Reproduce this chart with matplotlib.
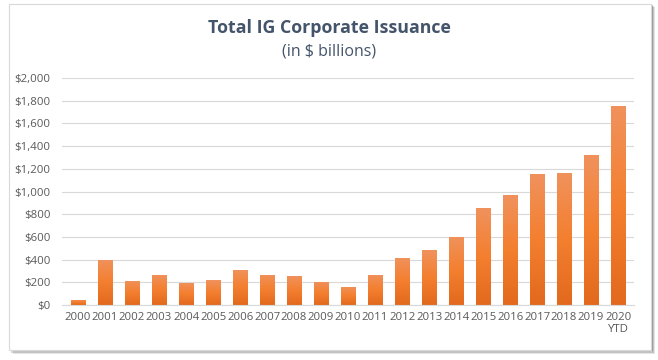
import numpy as np
import matplotlib.pyplot as plt
from matplotlib.colors import LinearSegmentedColormap
from matplotlib.patches import Rectangle
from matplotlib.ticker import FuncFormatter

plt.rcParams['font.family'] = ['Open Sans', 'DejaVu Sans']

years = ["2000", "2001", "2002", "2003", "2004", "2005", "2006", "2007", "2008", "2009",
         "2010", "2011", "2012", "2013", "2014", "2015", "2016", "2017", "2018", "2019",
         "2020\nYTD"]
issuance = [45, 400, 215, 265, 195, 220, 310, 265, 255, 205,
            160, 265, 415, 485, 600, 855, 970, 1155, 1165, 1320, 1755]

title = "Total IG Corporate Issuance"
subtitle = "(in $ billions)"

fig = plt.figure(figsize=(6.58, 3.60), dpi=100)

# chart frame with a soft shadow
for off, alpha in [(0.006, 0.10), (0.004, 0.15), (0.002, 0.2)]:
    fig.patches.append(Rectangle((0.013 + off, 0.028 - off * 1.8), 0.977, 0.962,
                                 transform=fig.transFigure, facecolor='#000000',
                                 alpha=alpha, edgecolor='none', zorder=0))
fig.patches.append(Rectangle((0.013, 0.028), 0.977, 0.962, transform=fig.transFigure,
                             facecolor='white', edgecolor='#d9d9d9', lw=0.8, zorder=1))

ax = fig.add_axes([0.094, 0.153, 0.87, 0.63])
ax.set_zorder(2)
ax.patch.set_alpha(0)

x = np.arange(len(years))
bars = ax.bar(x, issuance, width=0.52, color='none', zorder=2)

cmap = LinearSegmentedColormap.from_list('orange', ['#e2691d', '#f47f2f', '#f0925d'])
grad = np.linspace(0, 1, 256).reshape(-1, 1)
for b in bars:
    x0, y0 = b.get_x(), b.get_y()
    w, h = b.get_width(), b.get_height()
    im = ax.imshow(grad, cmap=cmap, origin='lower', aspect='auto',
                   extent=[x0, x0 + w, y0, y0 + h], zorder=2)
    im.set_clip_path(b)

ax.set_xlim(-0.6, len(years) - 0.4)
ax.set_ylim(0, 2000)
ax.set_yticks(np.arange(0, 2001, 200))
ax.yaxis.set_major_formatter(FuncFormatter(lambda v, p: f"${v:,.0f}"))
ax.set_xticks(x)
ax.set_xticklabels(years)
ax.grid(axis='y', color='#d9d9d9', lw=0.8, zorder=0)
ax.set_axisbelow(True)
for s in ['top', 'right', 'left']:
    ax.spines[s].set_visible(False)
ax.spines['bottom'].set_color('#d9d9d9')
ax.tick_params(axis='both', length=0, labelsize=8.2, colors='#595959')
ax.tick_params(axis='y', pad=8)
ax.tick_params(axis='x', pad=5)

fig.text(0.5, 0.922, title, ha='center', va='center', fontsize=12.8,
         fontweight='bold', color='#44546a')
fig.text(0.5, 0.858, subtitle, ha='center', va='center', fontsize=11.5, color='#44546a')

fig.savefig('out.png', dpi=100)
